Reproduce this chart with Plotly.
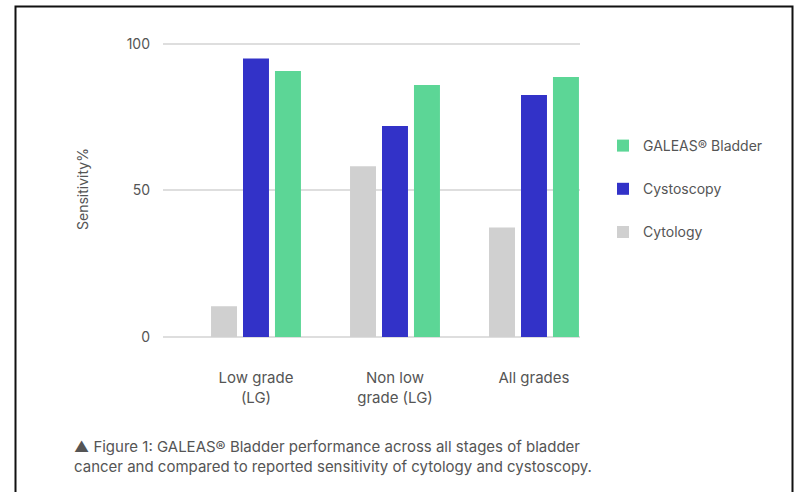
import plotly.graph_objects as go

categories = ["Low grade<br>(LG)", "Non low<br>grade (LG)", "All grades"]
cytology = [10.5, 58.3, 37.4]
cystoscopy = [95.0, 72.0, 82.6]
galeas = [90.8, 86.0, 88.7]
y_ticks = [0, 50, 100]

series = [
    ("Cytology", cytology, "#d0d0d0", 3),
    ("Cystoscopy", cystoscopy, "#3232c8", 2),
    ("GALEAS® Bladder", galeas, "#5cd696", 1),
]

FONT = "Inter, Open Sans, sans-serif"
TXT = "#555555"

fig = go.Figure()
for name, vals, col, rank in series:
    fig.add_trace(go.Bar(
        x=categories, y=vals, name=name, marker_color=col,
        marker_line_width=0, legendgroup=name, legendrank=rank,
        hoverinfo="y+name",
    ))

W, H = 795, 492
L, R, T, B = 163, 215, 41, 155
pw, ph = W - L - R, H - T - B

def px_x(p):
    return (p - L) / pw

def px_y(p):
    return (H - B - p) / ph

fig.update_layout(
    width=W, height=H,
    margin=dict(l=L, r=R, t=T, b=B, pad=0),
    paper_bgcolor="white", plot_bgcolor="white",
    barmode="group", bargap=0.31, bargroupgap=0.1875,
    font=dict(family=FONT, color=TXT, size=14),
    showlegend=True,
    legend=dict(
        traceorder="grouped", x=px_x(603), xanchor="left",
        y=px_y(130), yanchor="top", tracegroupgap=22,
        font=dict(size=14, color=TXT), bgcolor="rgba(0,0,0,0)",
    ),
    xaxis=dict(
        range=[-0.669, 2.331], showgrid=False, zeroline=False,
        showline=False, ticks="", ticklabelstandoff=30,
        tickfont=dict(size=15, color=TXT), fixedrange=True,
    ),
    yaxis=dict(
        range=[0, 101], tickvals=y_ticks, showgrid=True,
        gridcolor="#dedede", gridwidth=1.5, zeroline=True,
        zerolinecolor="#dedede", zerolinewidth=1.5,
        showline=False, ticks="", ticklabelstandoff=12,
        tickfont=dict(size=14, color=TXT),
        title=dict(text="Sensitivity%", standoff=34,
                   font=dict(size=14, color=TXT)),
    ),
)

fig.add_annotation(
    xref="paper", yref="paper", x=px_x(72), y=px_y(435),
    xanchor="left", yanchor="top", align="left", showarrow=False,
    text="▲ Figure 1: GALEAS® Bladder performance across all stages of bladder<br>"
         "cancer and compared to reported sensitivity of cytology and cystoscopy.",
    font=dict(size=15, color=TXT, family=FONT),
)

fig.add_shape(
    type="rect", xref="paper", yref="paper",
    x0=px_x(15.5), x1=px_x(792.5), y0=px_y(520), y1=px_y(6.5),
    line=dict(color="#111111", width=2), fillcolor="rgba(0,0,0,0)",
    layer="above",
)

fig.write_html("out.html")
